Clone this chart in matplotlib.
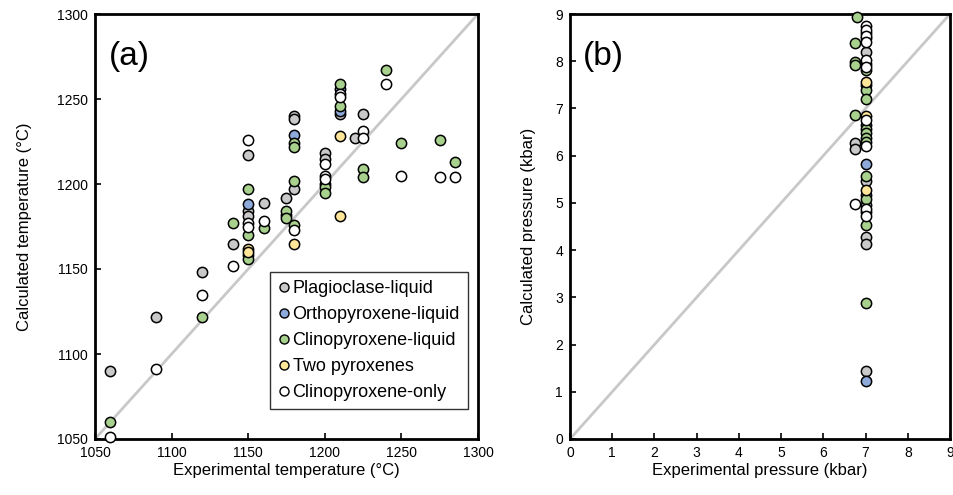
import numpy as np
import matplotlib
matplotlib.use('Agg')
import matplotlib.pyplot as plt
from matplotlib import rcParams
from matplotlib.lines import Line2D

rcParams['font.family'] = 'sans-serif'
rcParams['font.sans-serif'] = ['Liberation Sans', 'DejaVu Sans']

#********************************
# sizes / styles
#********************************
axis_Label_font_size = 12
tick_font_size = 10
legend_font_size = 13
panel_font_size = 24
PointSize = 7.4
EdgeWidth = 1.1

col_plag = '#c9c9c9'
col_opx = '#8eaadb'
col_cpx = '#a9d18e'
col_twopx = '#ffe699'
col_cpxonly = 'white'

#********************************
# data (a): experimental T vs calculated T
#********************************
plag_T_exp = [1060, 1090, 1120, 1140, 1150, 1150, 1150, 1160, 1175, 1175, 1180, 1180, 1180, 1200, 1200, 1200, 1210, 1220, 1225]
plag_T_calc = [1090, 1122, 1148, 1165, 1217, 1184, 1181, 1189, 1192, 1182, 1240, 1238, 1197, 1218, 1215, 1200, 1241, 1227, 1241]

opx_T_exp = [1150, 1180, 1210, 1210]
opx_T_calc = [1188, 1229, 1256, 1243]

cpx_T_exp = [1060, 1120, 1140, 1150, 1150, 1150, 1150, 1160, 1175, 1175, 1180, 1180, 1180, 1180, 1200, 1200, 1210, 1210, 1225, 1225, 1240, 1250, 1275, 1285]
cpx_T_calc = [1060, 1122, 1177, 1197, 1170, 1158, 1156, 1174, 1184, 1180, 1224, 1222, 1202, 1176, 1198, 1195, 1259, 1246, 1209, 1204, 1267, 1224, 1226, 1213]

twopx_T_exp = [1150, 1150, 1180, 1210, 1210]
twopx_T_calc = [1162, 1160, 1165, 1228, 1181]

cpxonly_T_exp = [1060, 1090, 1120, 1140, 1150, 1150, 1150, 1160, 1180, 1200, 1200, 1200, 1210, 1210, 1225, 1225, 1240, 1250, 1275, 1285]
cpxonly_T_calc = [1051, 1091, 1135, 1152, 1226, 1177, 1175, 1178, 1173, 1212, 1205, 1203, 1253, 1251, 1231, 1227, 1259, 1205, 1204, 1204]

#********************************
# data (b): experimental P vs calculated P
#********************************
plag_P_exp = [7.0, 7.0, 7.0, 7.0, 7.0, 7.0, 6.75, 6.75, 7.0]
plag_P_calc = [8.20, 5.46, 4.95, 4.80, 4.28, 4.13, 6.26, 6.15, 1.43]

opx_P_exp = [7.0, 7.0]
opx_P_calc = [5.83, 1.23]

cpx_P_exp = [6.79, 7.0, 7.0, 6.75, 6.75, 6.75, 7.0, 7.0, 7.0, 7.0, 7.0, 6.75, 7.0, 7.0, 7.0, 7.0, 7.0, 7.0, 7.0, 7.0, 7.0, 7.0]
cpx_P_calc = [8.94, 8.59, 8.49, 8.39, 7.99, 7.92, 7.95, 7.81, 7.49, 7.39, 7.21, 6.86, 6.65, 6.56, 6.47, 6.38, 6.29, 5.56, 5.16, 5.09, 4.53, 2.89]

twopx_P_exp = [7.0, 7.0, 7.0]
twopx_P_calc = [7.56, 6.83, 5.27]

cpxonly_P_exp = [7.0, 7.0, 7.0, 7.0, 7.0, 7.0, 7.0, 7.0, 6.75, 7.0, 7.0]
cpxonly_P_calc = [8.75, 8.66, 8.53, 8.41, 8.03, 7.88, 6.75, 6.21, 4.98, 4.88, 4.73]

labels = ['Plagioclase-liquid', 'Orthopyroxene-liquid', 'Clinopyroxene-liquid', 'Two pyroxenes', 'Clinopyroxene-only']
colors = [col_plag, col_opx, col_cpx, col_twopx, col_cpxonly]

T_min, T_max = 1050, 1300
P_min, P_max = 0, 9


def style_axes(ax):
    for sp in ax.spines.values():
        sp.set_linewidth(2.0)
        sp.set_color('black')
    ax.tick_params(axis='both', which='major', direction='in', length=4, width=1.2,
                   labelsize=tick_font_size, top=False, right=False, pad=5)


fig1 = plt.figure(figsize=(9.54, 4.95), dpi=100)
ax1 = fig1.add_axes([95 / 954, 1 - 439 / 495, 383 / 954, 425 / 495])
ax2 = fig1.add_axes([570 / 954, 1 - 439 / 495, 380 / 954, 425 / 495])

# 1:1 lines
ax1.plot([T_min, T_max], [T_min, T_max], color='#c8c8c8', linewidth=2, zorder=1)
ax2.plot([P_min, P_max], [P_min, P_max], color='#c8c8c8', linewidth=2, zorder=1)

T_sets = [(plag_T_exp, plag_T_calc), (opx_T_exp, opx_T_calc), (cpx_T_exp, cpx_T_calc),
          (twopx_T_exp, twopx_T_calc), (cpxonly_T_exp, cpxonly_T_calc)]
P_sets = [(plag_P_exp, plag_P_calc), (opx_P_exp, opx_P_calc), (cpx_P_exp, cpx_P_calc),
          (twopx_P_exp, twopx_P_calc), (cpxonly_P_exp, cpxonly_P_calc)]

for (xx, yy), c in zip(T_sets, colors):
    ax1.plot(xx, yy, linestyle='none', marker='o', markersize=PointSize, markerfacecolor=c,
             markeredgecolor='black', markeredgewidth=EdgeWidth, zorder=3, clip_on=False)
for (xx, yy), c in zip(P_sets, colors):
    ax2.plot(xx, yy, linestyle='none', marker='o', markersize=PointSize, markerfacecolor=c,
             markeredgecolor='black', markeredgewidth=EdgeWidth, zorder=3, clip_on=False)

ax1.set_xlim(T_min, T_max)
ax1.set_ylim(T_min, T_max)
ax1.set_xticks(np.arange(T_min, T_max + 1, 50))
ax1.set_yticks(np.arange(T_min, T_max + 1, 50))
ax1.set_xlabel('Experimental temperature (°C)', fontsize=axis_Label_font_size, labelpad=2)
ax1.set_ylabel('Calculated temperature (°C)', fontsize=axis_Label_font_size, labelpad=18)
ax1.text(0.035, 0.9, '(a)', transform=ax1.transAxes, fontsize=panel_font_size, va='center', ha='left')
style_axes(ax1)

ax2.set_xlim(P_min, P_max)
ax2.set_ylim(P_min, P_max)
ax2.set_xticks(np.arange(P_min, P_max + 1, 1))
ax2.set_yticks(np.arange(P_min, P_max + 1, 1))
ax2.set_xlabel('Experimental pressure (kbar)', fontsize=axis_Label_font_size, labelpad=2)
ax2.set_ylabel('Calculated pressure (kbar)', fontsize=axis_Label_font_size, labelpad=14)
ax2.text(0.035, 0.9, '(b)', transform=ax2.transAxes, fontsize=panel_font_size, va='center', ha='left')
style_axes(ax2)

# legend
handles = [Line2D([], [], linestyle='none', marker='o', markersize=6.5, markerfacecolor=c,
                  markeredgecolor='black', markeredgewidth=1.0) for c in colors]
leg1 = ax1.legend(handles, labels, loc='upper left', bbox_to_anchor=(0.457, 0.393),
                  fontsize=legend_font_size, frameon=True, fancybox=False, handlelength=0.6,
                  handletextpad=0.2, labelspacing=0.5, borderpad=0.45, borderaxespad=0)
frame1 = leg1.get_frame()
frame1.set_edgecolor('black')
frame1.set_linewidth(1.0)

fig1.savefig('out.png', dpi=100)
